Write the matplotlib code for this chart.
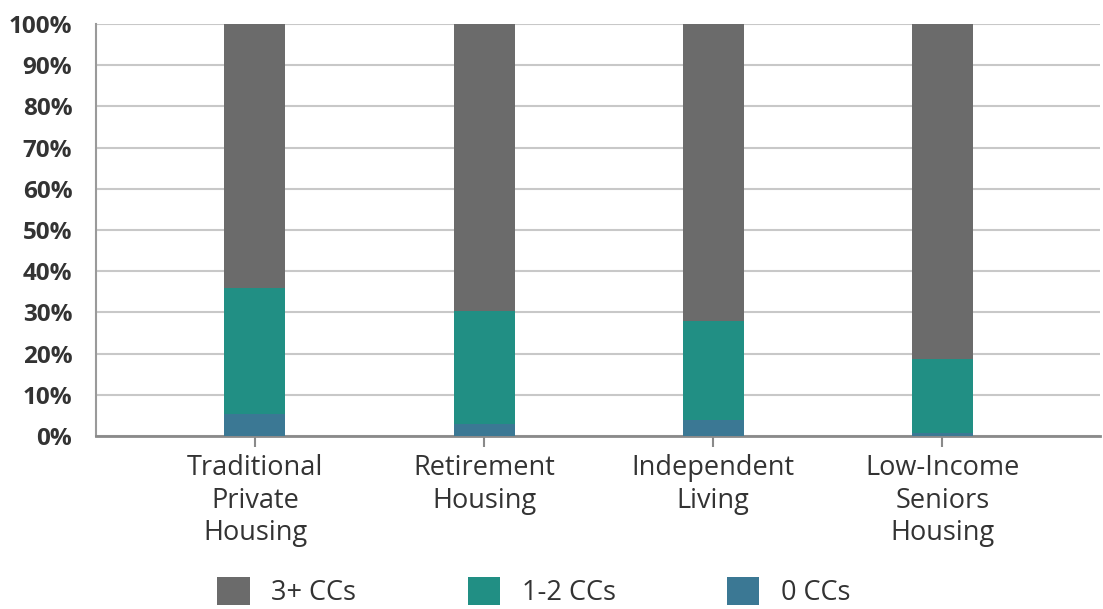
import matplotlib.pyplot as plt
import numpy as np

# data (% of each housing type)
categories = ['Traditional\nPrivate\nHousing', 'Retirement\nHousing',
              'Independent\nLiving', 'Low-Income\nSeniors\nHousing']
zero_cc = [5.4, 3.0, 3.9, 0.8]
one_two_cc = [30.5, 27.3, 24.0, 17.8]
three_plus_cc = [64.1, 69.7, 72.1, 81.4]
y_ticks = [0, 10, 20, 30, 40, 50, 60, 70, 80, 90, 100]

c_grey = '#6b6b6b'
c_teal = '#218f84'
c_blue = '#3b7894'

fig = plt.figure(figsize=(11.03, 6.09), dpi=100)
ax = fig.add_axes([0.087, 0.284, 0.91, 0.6766])

x = np.arange(len(categories))
w = 0.266
zero_cc = np.array(zero_cc)
one_two_cc = np.array(one_two_cc)
three_plus_cc = np.array(three_plus_cc)

ax.bar(x, zero_cc, w, color=c_blue, label='0 CCs', zorder=3)
ax.bar(x, one_two_cc, w, bottom=zero_cc, color=c_teal, label='1-2 CCs', zorder=3)
ax.bar(x, three_plus_cc, w, bottom=zero_cc + one_two_cc, color=c_grey,
       label='3+ CCs', zorder=3)

ax.set_xlim(-0.694, 3.687)
ax.set_ylim(0, 100)
ax.set_yticks(y_ticks)
ax.set_yticklabels([f'{t}%' for t in y_ticks], fontfamily='Open Sans',
                   fontweight='bold', fontsize=17.5, color='#333333')
ax.tick_params(axis='y', length=0, pad=17)
ax.yaxis.grid(True, color='#c8c8c8', linewidth=1.5, zorder=0)

ax.set_xticks(x)
ax.set_xticklabels(categories, fontfamily='Open Sans', fontsize=19.5,
                   color='#333333', linespacing=1.22)
ax.tick_params(axis='x', length=8, width=1.5, color='#8a8a8a', pad=5)

for s in ['top', 'right']:
    ax.spines[s].set_visible(False)
ax.spines['bottom'].set_color('#8a8a8a')
ax.spines['bottom'].set_linewidth(2)
ax.spines['left'].set_color('#9a9a9a')
ax.spines['left'].set_linewidth(1.5)

handles, labels = ax.get_legend_handles_labels()
fig.legend(handles[::-1], labels[::-1], loc='upper center',
           bbox_to_anchor=(0.484, 0.074), ncol=3, frameon=False,
           prop={'family': 'Open Sans', 'size': 19.5},
           handlelength=1.2, handleheight=1.2, handletextpad=0.8,
           columnspacing=4.1, borderpad=0, labelcolor='#333333')

fig.savefig('out.png', dpi=100)
